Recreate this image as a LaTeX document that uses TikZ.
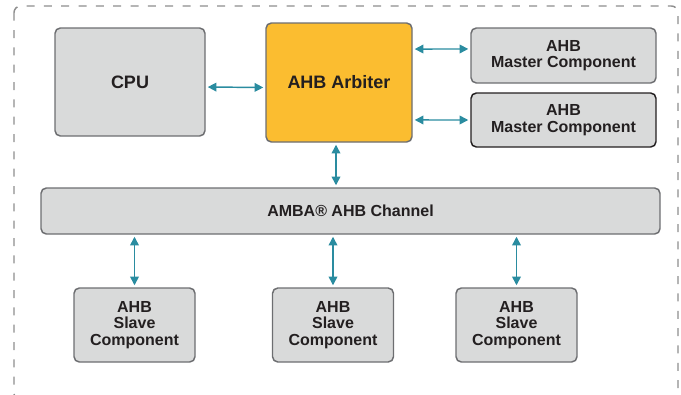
\documentclass[tikz,border=0pt]{standalone}
\usepackage{fontspec}
\setmainfont{Liberation Sans}
\usepackage{xcolor}
\usepackage{tikz}
\usetikzlibrary{arrows.meta}

\definecolor{boxgray}{HTML}{D9DADA}
\definecolor{edgegray}{HTML}{6D6E71}
\definecolor{arbyellow}{HTML}{FBBD30}
\definecolor{linkteal}{HTML}{2A8CA0}
\definecolor{txtdark}{HTML}{231F20}
\definecolor{dashgray}{HTML}{8E8E8E}

\tikzset{
    block/.style={draw=edgegray, fill=boxgray, rounded corners=4pt, line width=1.1pt,
        align=center, inner sep=0pt, text=txtdark,
        font=\fontsize{12}{12.5}\selectfont\bfseries},
    bigtext/.style={font=\fontsize{13.5}{14}\selectfont\bfseries},
    link/.style={draw=linkteal, line width=1.1pt,
        {Triangle[length=6.5pt,width=6.5pt]}-{Triangle[length=6.5pt,width=6.5pt]},
        shorten <=1.5pt, shorten >=1.5pt}
}

\begin{document}
\begin{tikzpicture}[x=0.75pt,y=-0.75pt]
        \useasboundingbox (0,0) rectangle (681,394);
        \clip (0,0) rectangle (681,394);
        \draw[dashgray, line width=1.1pt, dash pattern=on 6pt off 7pt, rounded corners=5pt] (14,6) rectangle (678,400);

        \node[block, bigtext, minimum width=112.5pt, minimum height=81pt] (cpu) at (130,82) {CPU};
        \node[block, bigtext, fill=arbyellow, minimum width=109.5pt, minimum height=89.25pt] (arb) at (339,82.5) {AHB Arbiter};
        \node[block, minimum width=138.75pt, minimum height=41.25pt] (m1) at (563.5,55.5) {AHB\\Master Component};
        \node[block, draw=txtdark, minimum width=138.75pt, minimum height=40.5pt] (m2) at (563.5,120) {AHB\\Master Component};
        \node[block, minimum width=464.25pt, minimum height=34.5pt] (ch) at (350.5,211) {AMBA® AHB Channel};

        \draw[link] ([yshift=-3.75pt]cpu.east) -- ([yshift=-3.75pt]arb.west);
        \draw[link] ([yshift=25.1pt]arb.east) -- ([yshift=4.9pt]m1.west);
        \draw[link] ([yshift=-28.1pt]arb.east) -- (m2.west);
        \draw[link] ([xshift=-2.25pt]arb.south) -- ([xshift=-2.25pt]arb.south |- ch.north);

        \foreach \i\x in {1/134.5, 2/333, 3/516.5}{
            \node[block, minimum width=90.75pt, minimum height=55.5pt] (s\i) at (\x,325) {AHB\\Slave\\Component};
            \draw[link] (s\i.north) -- (s\i.north |- ch.south);
        }
    \end{tikzpicture}
\end{document}
